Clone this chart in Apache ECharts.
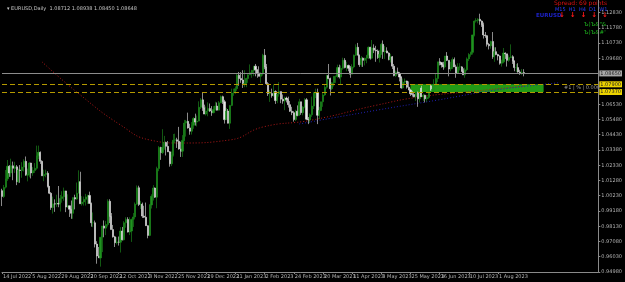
<!DOCTYPE html>
<html><head><meta charset="utf-8">
<script src="https://cdn.jsdelivr.net/npm/echarts@6/dist/echarts.min.js"></script>
<style>html,body{margin:0;padding:0;background:#000;}#c{width:625px;height:282px;}</style>
</head><body><div id="c"></div>
<script>
// ---------- data ----------
const chartTitle = '\u25BE EURUSD,Daily  1.08712 1.08938 1.08450 1.08648';
const firstDay = '2022-07-14';
const barCountSlots = 328;            // category slots incl. right-side chart shift
const missingDays = ['2022-12-26'];
const monthNames = ['Jan','Feb','Mar','Apr','May','Jun','Jul','Aug','Sep','Oct','Nov','Dec'];
// daily bars: [open, high, low, close]
const bars = [
[1.0058,1.0071,0.9952,1.0018],[1.0018,1.0097,1.0008,1.0080],[1.0082,1.0200,1.0073,1.0140],[1.0140,1.0269,1.0125,1.0226],
[1.0226,1.0234,1.0153,1.0180],[1.0180,1.0278,1.0153,1.0229],[1.0229,1.0258,1.0130,1.0212],[1.0210,1.0257,1.0180,1.0222],
[1.0222,1.0234,1.0096,1.0120],[1.0120,1.0210,1.0110,1.0200],[1.0200,1.0234,1.0112,1.0197],[1.0197,1.0254,1.0147,1.0220],
[1.0220,1.0274,1.0190,1.0260],[1.0260,1.0293,1.0160,1.0165],[1.0165,1.0210,1.0122,1.0167],[1.0167,1.0254,1.0150,1.0248],
[1.0248,1.0250,1.0142,1.0180],[1.0180,1.0220,1.0160,1.0196],[1.0196,1.0248,1.0180,1.0212],[1.0212,1.0368,1.0202,1.0298],
[1.0298,1.0368,1.0275,1.0322],[1.0322,1.0328,1.0242,1.0260],[1.0260,1.0267,1.0160,1.0160],[1.0160,1.0202,1.0123,1.0170],
[1.0170,1.0202,1.0150,1.0178],[1.0178,1.0192,1.0080,1.0088],[1.0088,1.0090,1.0034,1.0040],[1.0040,1.0048,0.9926,0.9942],
[0.9942,1.0017,0.9900,0.9967],[0.9967,0.9998,0.9912,0.9966],[0.9966,1.0030,0.9945,0.9970],[0.9970,1.0090,0.9944,0.9966],
[0.9966,1.0028,0.9914,1.0004],[1.0004,1.0054,0.9975,1.0016],[1.0016,1.0079,0.9988,1.0056],
[1.0056,1.0057,0.9910,0.9945],[0.9945,1.0033,0.9940,0.9954],[0.9954,0.9955,0.9877,0.9930],[0.9930,0.9990,0.9864,0.9902],
[0.9902,1.0010,0.9864,1.0010],[1.0010,1.0030,0.9929,1.0000],[1.0000,1.0114,0.9995,1.0040],[1.0040,1.0198,1.0040,1.0120],
[1.0120,1.0188,0.9966,0.9968],[0.9968,1.0020,0.9955,0.9980],[0.9980,1.0017,0.9955,0.9998],[0.9998,1.0036,0.9955,1.0015],
[1.0015,1.0030,0.9966,1.0025],[1.0025,1.0051,0.9970,0.9970],[0.9970,0.9976,0.9810,0.9837],[0.9837,0.9908,0.9807,0.9837],
[0.9837,0.9852,0.9667,0.9690],[0.9690,0.9710,0.9555,0.9608],[0.9608,0.9670,0.9595,0.9595],[0.9595,0.9737,0.9535,0.9737],
[0.9737,0.9815,0.9635,0.9815],[0.9815,0.9853,0.9737,0.9800],
[0.9800,0.9850,0.9752,0.9825],[0.9825,0.9999,0.9811,0.9985],[0.9985,0.9999,0.9835,0.9880],[0.9880,0.9904,0.9790,0.9790],
[0.9790,0.9822,0.9735,0.9740],[0.9740,0.9747,0.9670,0.9700],[0.9700,0.9738,0.9688,0.9705],[0.9705,0.9742,0.9680,0.9703],
[0.9703,0.9807,0.9632,0.9780],[0.9780,0.9808,0.9715,0.9720],[0.9720,0.9848,0.9715,0.9837],[0.9837,0.9875,0.9803,0.9860],
[0.9860,0.9875,0.9770,0.9773],[0.9773,0.9875,0.9752,0.9780],[0.9780,0.9865,0.9705,0.9860],[0.9860,0.9904,0.9808,0.9877],
[0.9877,0.9977,0.9860,0.9965],[0.9965,1.0094,0.9960,1.0078],[1.0078,1.0092,0.9952,0.9963],[0.9963,0.9988,0.9932,0.9965],
[0.9965,0.9976,0.9870,0.9883],
[0.9883,0.9954,0.9870,0.9875],[0.9875,0.9976,0.9815,0.9817],[0.9817,0.9820,0.9730,0.9750],[0.9750,0.9965,0.9745,0.9960],
[0.9960,1.0033,0.9935,1.0019],[1.0019,1.0096,0.9990,1.0076],[1.0076,1.0080,1.0008,1.0013],[1.0013,1.0223,0.9937,1.0210],
[1.0210,1.0365,1.0192,1.0355],[1.0355,1.0360,1.0270,1.0320],[1.0320,1.0481,1.0310,1.0355],[1.0355,1.0435,1.0340,1.0390],
[1.0390,1.0395,1.0300,1.0363],[1.0363,1.0400,1.0326,1.0325],[1.0325,1.0330,1.0223,1.0243],[1.0243,1.0327,1.0227,1.0303],
[1.0303,1.0448,1.0293,1.0405],[1.0405,1.0450,1.0385,1.0408],[1.0408,1.0422,1.0352,1.0398],[1.0398,1.0497,1.0340,1.0345],
[1.0345,1.0395,1.0290,1.0330],[1.0330,1.0440,1.0290,1.0404],
[1.0404,1.0545,1.0397,1.0523],[1.0523,1.0545,1.0430,1.0535],[1.0535,1.0595,1.0485,1.0490],[1.0490,1.0518,1.0443,1.0467],
[1.0467,1.0530,1.0444,1.0508],[1.0508,1.0564,1.0484,1.0555],[1.0555,1.0588,1.0506,1.0530],[1.0530,1.0575,1.0500,1.0537],
[1.0537,1.0673,1.0535,1.0632],[1.0632,1.0695,1.0620,1.0683],[1.0683,1.0736,1.0607,1.0628],[1.0628,1.0650,1.0585,1.0585],
[1.0585,1.0637,1.0575,1.0607],[1.0607,1.0666,1.0570,1.0623],[1.0623,1.0658,1.0600,1.0606],[1.0606,1.0640,1.0573,1.0595],
[1.0595,1.0640,1.0590,1.0616],[1.0616,1.0670,1.0610,1.0640],[1.0640,1.0665,1.0610,1.0612],[1.0612,1.0675,1.0610,1.0663],
[1.0663,1.0713,1.0660,1.0705],
[1.0705,1.0712,1.0655,1.0670],[1.0670,1.0683,1.0520,1.0547],[1.0547,1.0627,1.0545,1.0606],[1.0606,1.0620,1.0521,1.0522],
[1.0522,1.0646,1.0483,1.0645],[1.0645,1.0760,1.0640,1.0730],[1.0730,1.0760,1.0711,1.0735],[1.0735,1.0776,1.0725,1.0760],
[1.0760,1.0866,1.0745,1.0852],[1.0852,1.0875,1.0780,1.0830],[1.0830,1.0874,1.0800,1.0820],[1.0820,1.0887,1.0765,1.0788],
[1.0788,1.0887,1.0770,1.0795],[1.0795,1.0835,1.0770,1.0830],[1.0830,1.0860,1.0800,1.0855],[1.0855,1.0927,1.0855,1.0870],
[1.0870,1.0890,1.0835,1.0885],[1.0885,1.0915,1.0846,1.0915],[1.0915,1.0930,1.0845,1.0890],[1.0890,1.0893,1.0835,1.0868],
[1.0868,1.0914,1.0845,1.0845],[1.0845,1.0873,1.0800,1.0862],
[1.0862,1.1000,1.0850,1.0990],[1.0990,1.1033,1.0894,1.0910],[1.0910,1.0930,1.0790,1.0794],[1.0794,1.0805,1.0710,1.0725],
[1.0725,1.0750,1.0669,1.0727],[1.0727,1.0760,1.0698,1.0712],[1.0712,1.0790,1.0705,1.0740],[1.0740,1.0749,1.0655,1.0678],
[1.0678,1.0725,1.0660,1.0723],[1.0723,1.0805,1.0705,1.0740],[1.0740,1.0741,1.0660,1.0688],[1.0688,1.0720,1.0656,1.0675],
[1.0675,1.0705,1.0612,1.0695],[1.0695,1.0705,1.0665,1.0685],[1.0685,1.0705,1.0630,1.0650],[1.0650,1.0675,1.0600,1.0605],
[1.0605,1.0635,1.0578,1.0595],[1.0595,1.0605,1.0533,1.0547],[1.0547,1.0615,1.0537,1.0605],[1.0605,1.0645,1.0570,1.0575],
[1.0575,1.0690,1.0575,1.0670],[1.0670,1.0670,1.0580,1.0595],[1.0595,1.0640,1.0577,1.0633],[1.0633,1.0695,1.0625,1.0683],
[1.0683,1.0695,1.0545,1.0550],[1.0550,1.0565,1.0516,1.0545],[1.0545,1.0590,1.0524,1.0580],[1.0580,1.0705,1.0566,1.0640],
[1.0640,1.0736,1.0620,1.0730],[1.0730,1.0760,1.0695,1.0730],[1.0730,1.0760,1.0516,1.0577],[1.0577,1.0635,1.0550,1.0610],
[1.0610,1.0670,1.0605,1.0670],[1.0670,1.0730,1.0635,1.0717],[1.0717,1.0790,1.0710,1.0770],[1.0770,1.0855,1.0760,1.0850],
[1.0850,1.0930,1.0825,1.0830],[1.0830,1.0836,1.0713,1.0760],[1.0760,1.0805,1.0750,1.0800],[1.0800,1.0845,1.0775,1.0845],
[1.0845,1.0850,1.0800,1.0845],[1.0845,1.0925,1.0835,1.0905],[1.0905,1.0925,1.0830,1.0840],
[1.0840,1.0920,1.0790,1.0900],[1.0900,1.0973,1.0890,1.0955],[1.0955,1.0970,1.0900,1.0905],[1.0905,1.0945,1.0880,1.0920],
[1.0920,1.0925,1.0880,1.0900],[1.0900,1.0915,1.0835,1.0860],[1.0860,1.0928,1.0860,1.0910],[1.0910,1.0995,1.0900,1.0990],
[1.0990,1.1065,1.0985,1.1045],[1.1045,1.1075,1.0990,1.0990],[1.0990,1.0995,1.0910,1.0925],[1.0925,1.0985,1.0910,1.0970],
[1.0970,1.0975,1.0910,1.0955],[1.0955,1.0973,1.0920,1.0970],[1.0970,1.0990,1.0935,1.0990],[1.0990,1.1050,1.0965,1.1045],
[1.1045,1.1048,1.0960,1.0970],[1.0970,1.1095,1.0965,1.1040],[1.1040,1.1065,1.1005,1.1025],[1.1025,1.1055,1.0945,1.1020],
[1.1020,1.1030,1.0965,1.0975],[1.0975,1.1025,1.0940,1.0995],[1.0995,1.1075,1.0995,1.1065],[1.1065,1.1092,1.0965,1.1015],
[1.1015,1.1055,1.0965,1.1020],[1.1020,1.1045,1.1005,1.1005],[1.1005,1.1010,1.0955,1.0960],[1.0960,1.1000,1.0940,1.0980],
[1.0980,1.0985,1.0895,1.0915],[1.0915,1.0930,1.0845,1.0850],[1.0850,1.0885,1.0840,1.0875],[1.0875,1.0905,1.0860,1.0863],
[1.0863,1.0875,1.0810,1.0840],[1.0840,1.0845,1.0760,1.0765],[1.0765,1.0830,1.0760,1.0805],[1.0805,1.0830,1.0790,1.0813],
[1.0813,1.0815,1.0760,1.0770],[1.0770,1.0810,1.0750,1.0750],[1.0750,1.0760,1.0710,1.0725],[1.0725,1.0745,1.0705,1.0720],
[1.0720,1.0735,1.0700,1.0705],[1.0705,1.0745,1.0675,1.0735],[1.0735,1.0740,1.0635,1.0690],
[1.0690,1.0765,1.0665,1.0765],[1.0765,1.0780,1.0705,1.0705],[1.0705,1.0725,1.0675,1.0715],[1.0715,1.0718,1.0665,1.0690],
[1.0690,1.0715,1.0670,1.0700],[1.0700,1.0785,1.0690,1.0780],[1.0780,1.0790,1.0745,1.0750],[1.0750,1.0790,1.0740,1.0755],
[1.0755,1.0825,1.0750,1.0790],[1.0790,1.0865,1.0775,1.0830],[1.0830,1.0945,1.0805,1.0945],[1.0945,1.0970,1.0920,1.0940],
[1.0940,1.0940,1.0905,1.0925],[1.0925,1.0945,1.0890,1.0910],[1.0910,1.0985,1.0900,1.0985],[1.0985,1.1012,1.0950,1.0955],
[1.0955,1.0955,1.0845,1.0895],[1.0895,1.0945,1.0880,1.0905],[1.0905,1.0975,1.0895,1.0960],[1.0960,1.0975,1.0910,1.0910],
[1.0910,1.0925,1.0835,1.0865],[1.0865,1.0935,1.0865,1.0910],
[1.0910,1.0935,1.0885,1.0910],[1.0910,1.0915,1.0875,1.0880],[1.0880,1.0900,1.0855,1.0855],[1.0855,1.0905,1.0835,1.0890],
[1.0890,1.0975,1.0880,1.0965],[1.0965,1.1005,1.0950,1.0995],[1.0995,1.1015,1.0980,1.1010],[1.1010,1.1130,1.0995,1.1130],
[1.1130,1.1230,1.1120,1.1225],[1.1225,1.1245,1.1215,1.1230],[1.1230,1.1245,1.1210,1.1238],[1.1238,1.1276,1.1200,1.1225],
[1.1225,1.1230,1.1185,1.1200],[1.1200,1.1215,1.1105,1.1130],[1.1130,1.1150,1.1110,1.1125],[1.1125,1.1130,1.1050,1.1065],
[1.1065,1.1075,1.1030,1.1055],[1.1055,1.1090,1.1035,1.1085],[1.1085,1.1150,1.0965,1.0980],[1.0980,1.1045,1.0945,1.1015],
[1.1015,1.1045,1.0990,1.0995],
[1.0995,1.1000,1.0955,1.0985],[1.0985,1.0990,1.0925,1.0935],[1.0935,1.0960,1.0912,1.0945],[1.0945,1.1040,1.0935,1.1005],
[1.1005,1.1010,1.0965,1.1000],[1.1000,1.1000,1.0912,1.0955],[1.0955,1.0990,1.0945,1.0975],[1.0975,1.1065,1.0970,1.0980],
[1.0980,1.0990,1.0930,1.0950],[1.0950,1.0955,1.0880,1.0905],[1.0905,1.0930,1.0875,1.0905],[1.0905,1.0935,1.0870,1.0875],
[1.0875,1.0890,1.0855,1.0870],[1.0870,1.0895,1.0855,1.0872],[1.0871,1.0894,1.0845,1.0865]
];
// moving-average lines: [barIndex, price]
const maRed = [[22,1.0944],[43,1.0716],[65,1.0510],[81,1.0407],[98,1.0386],[125,1.0407],[143,1.0496],[170,1.0544],[206,1.0648],[229,1.0703],[260,1.0744],[286,1.0778]];
const maBlue = [[163,1.0517],[206,1.0613],[239,1.0682],[271,1.0751],[306,1.0801]];
// price levels
const currentPrice = 1.0865;
const levelUpper = 1.0790;
const levelLower = 1.0737;
const zoneStartBar = 224, zoneEndBar = 297;
const zoneText = '#1 | % | 0.000';
// price-axis tick labels
const yTicks = [1.1283,1.1178,1.1073,1.0968,1.0653,1.0548,1.0443,1.0338,1.0233,1.0128,1.0023,0.9918,0.9813,0.9708,0.9603,0.9498];
const yMin = 0.9498, yMax = 1.13704;
const xLabelFirst = 0, xLabelStep = 16;

// ---------- categories (trading days) ----------
const dates = [];
{
  const d = new Date(firstDay + 'T00:00:00Z');
  while (dates.length < bars.length) {
    const wd = d.getUTCDay();
    const iso = d.toISOString().slice(0,10);
    if (wd !== 0 && wd !== 6 && missingDays.indexOf(iso) < 0) {
      dates.push(d.getUTCDate() + ' ' + monthNames[d.getUTCMonth()] + ' ' + d.getUTCFullYear());
    }
    d.setUTCDate(d.getUTCDate() + 1);
  }
}
const categories = dates.slice();
while (categories.length < barCountSlots) categories.push('');
const candleData = bars.map(b => [b[0], b[3], b[2], b[1]]);
const showX = (i) => i < bars.length && (i === xLabelFirst || (i % xLabelStep === 0));

const FONT = 'DejaVu Sans';
const chart = echarts.init(document.getElementById('c'), null, {renderer:'canvas'});
chart.setOption({
  backgroundColor: '#000000',
  animation: false,
  title: {text: chartTitle, left: 2, top: 1, textStyle: {color:'#c8c8c8', fontSize: 5, fontWeight:'normal', fontFamily: FONT}},
  grid: {left: 0, right: 21, top: 0, bottom: 10, containLabel: false},
  xAxis: {
    type: 'category', data: categories, boundaryGap: false,
    axisLine: {show: true, lineStyle: {color: '#8a8a8a', width: 1}},
    axisTick: {show: true, interval: (i) => showX(i), length: 2, lineStyle: {color:'#8a8a8a'}},
    axisLabel: {show: true, interval: (i) => showX(i), color: '#b4b4b4', fontSize: 5, fontFamily: FONT, align: 'left', margin: 2, padding: [0,0,0,1]},
    splitLine: {show: false}
  },
  yAxis: {
    type: 'value', position: 'right', min: yMin, max: yMax, scale: true,
    axisLine: {show: true, lineStyle: {color: '#8a8a8a', width: 1}},
    axisTick: {show: true, customValues: yTicks, length: 2, lineStyle: {color:'#8a8a8a'}},
    axisLabel: {show: true, customValues: yTicks, color: '#b4b4b4', fontSize: 5, fontFamily: FONT, margin: 3, formatter: (v) => v.toFixed(5)},
    splitLine: {show: false}
  },
  graphic: [
    {type:'text', left: 554, top: 0, style: {text:'Spread: 69 points', fill:'#dd1010', fontSize: 6, fontFamily: FONT}},
    {type:'text', left: 555, top: 7, style: {text:'M15  H1  H4  D1  W1', fill:'#2a3cff', fontSize: 5, fontFamily: FONT}},
    {type:'text', left: 536, top: 13, style: {text:'EURUSD', fill:'#1c22c8', fontSize: 5.5, fontWeight:'bold', fontFamily: FONT}},
    {type:'text', left: 559, top: 12, style: {text:'\u2193  \u2193  \u2193  \u2193  \u2193', fill:'#ff1a1a', fontSize: 7, fontWeight: 'bold', fontFamily: FONT}},
    {type:'text', left: 584, top: 22, style: {text:'Ъ)Ъ&"&', fill:'#1fb81f', fontSize: 5.5, fontFamily: FONT}},
    {type:'text', left: 584, top: 30, style: {text:'Ъ)Ъ&#\'', fill:'#1fb81f', fontSize: 5.5, fontFamily: FONT}},
    {type:'text', left: 564, top: 85, style: {text: zoneText, fill:'#9a9a9a', fontSize: 5, fontFamily: FONT}}
  ],
  series: [
    {
      type: 'line', data: [], z: 1, silent: true,
      markArea: {silent: true, itemStyle: {color: '#229a16', opacity: 1},
        data: [[{xAxis: zoneStartBar, yAxis: levelUpper}, {xAxis: zoneEndBar, yAxis: levelLower}]]}
    },
    {
      type: 'line', data: maRed, z: 3, smooth: 0.5, showSymbol: false, silent: true,
      lineStyle: {color: '#b01818', width: 1, type: [1, 2]}
    },
    {
      type: 'line', data: maBlue, z: 3, smooth: 0.5, showSymbol: false, silent: true,
      lineStyle: {color: '#2020b0', width: 1, type: [1, 2]}
    },
    {
      type: 'candlestick', data: candleData, z: 4, barWidth: 1.6,
      itemStyle: {color: '#1f931f', color0: '#e8e8e8', borderColor: '#1f931f', borderColor0: '#e8e8e8', borderWidth: 0.6},
      markLine: {
        symbol: 'none', silent: true, animation: false, precision: 5,
        data: [
          {yAxis: currentPrice, lineStyle: {color: '#8c8c8c', type: 'solid', width: 1},
           label: {show: true, position: 'end', distance: 1, formatter: currentPrice.toFixed(5), color: '#202020', backgroundColor: '#a8a8a8', fontSize: 5, fontFamily: FONT, padding: [1,1,0,1]}},
          {yAxis: levelUpper, lineStyle: {color: '#b59a00', type: [5, 3], width: 1},
           label: {show: true, position: 'end', distance: 1, formatter: levelUpper.toFixed(5), color: '#202020', backgroundColor: '#ecd400', fontSize: 5, fontFamily: FONT, padding: [1,1,0,1]}},
          {yAxis: levelLower, lineStyle: {color: '#b59a00', type: [5, 3], width: 1},
           label: {show: true, position: 'end', distance: 1, formatter: levelLower.toFixed(5), color: '#202020', backgroundColor: '#ecd400', fontSize: 5, fontFamily: FONT, padding: [1,1,0,1]}}
        ]
      }
    }
  ]
});
</script></body></html>
